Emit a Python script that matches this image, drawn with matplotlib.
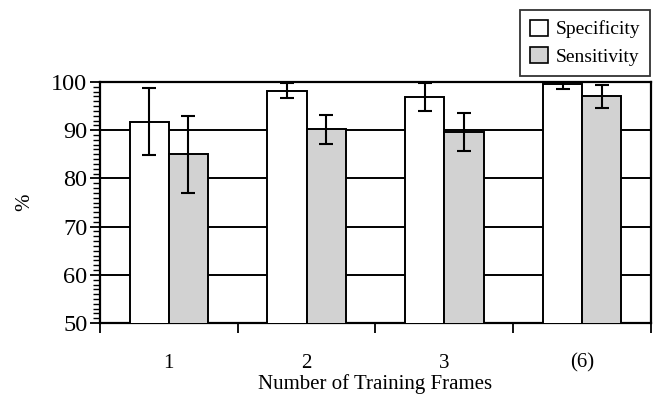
import matplotlib
matplotlib.use("Agg")
import matplotlib.pyplot as plt
import numpy as np
from matplotlib.patches import Patch
from matplotlib.ticker import MultipleLocator

categories = ["1", "2", "3", "(6)"]
specificity = [91.8, 98.2, 96.8, 99.5]
specificity_err = [7.0, 1.6, 2.9, 1.0]
sensitivity = [85.0, 90.2, 89.6, 97.0]
sensitivity_err = [8.0, 3.0, 4.0, 2.3]

plt.rcParams['font.family'] = ['Liberation Serif', 'DejaVu Serif']

fig = plt.figure(figsize=(6.53, 3.96), dpi=100)
ax = fig.add_axes([0.153, 0.184, 0.844, 0.609])

x = np.arange(len(categories))
w = 0.285
gray = '#d2d2d2'
ax.bar(x - w/2, specificity, w, color='white', edgecolor='black', linewidth=1.4, zorder=3,
       yerr=specificity_err, error_kw=dict(ecolor='black', elinewidth=1.5, capsize=5, capthick=1.5))
ax.bar(x + w/2, sensitivity, w, color=gray, edgecolor='black', linewidth=1.4, zorder=3,
       yerr=sensitivity_err, error_kw=dict(ecolor='black', elinewidth=1.5, capsize=5, capthick=1.5))

ax.set_ylim(50, 100)
ax.set_xlim(-0.5, len(categories) - 0.5)
ax.set_yticks([50, 60, 70, 80, 90, 100])
ax.yaxis.set_minor_locator(MultipleLocator(1))
ax.yaxis.grid(True, color='black', linewidth=1.4, zorder=0)
ax.set_axisbelow(True)

ax.set_xticks(np.arange(len(categories) + 1) - 0.5)
ax.set_xticklabels([])
ax.set_xticks(x, minor=True)
ax.set_xticklabels(categories, minor=True)
ax.tick_params(axis='x', which='major', direction='out', length=7, width=1.3)
ax.tick_params(axis='x', which='minor', length=0, pad=22, labelsize=15)
ax.tick_params(axis='y', which='major', direction='out', length=7, width=1.3, labelsize=17.5, pad=2)
ax.tick_params(axis='y', which='minor', direction='out', length=5, width=1.0)

for s in ax.spines.values():
    s.set_linewidth(1.6)
    s.set_color('black')

ax.set_ylabel('%', fontsize=15, labelpad=12)
ax.set_xlabel('Number of Training Frames', fontsize=15, labelpad=1)

handles = [Patch(facecolor='white', edgecolor='black', linewidth=1.2, label='Specificity'),
           Patch(facecolor=gray, edgecolor='black', linewidth=1.2, label='Sensitivity')]
leg = fig.legend(handles=handles, loc='upper right', bbox_to_anchor=(0.995, 0.975),
                 fontsize=14, frameon=True, fancybox=False, edgecolor='black',
                 handlelength=0.9, handleheight=0.9, handletextpad=0.4, borderpad=0.5,
                 labelspacing=0.45, borderaxespad=0)
leg.get_frame().set_linewidth(1.3)

fig.savefig('out.png', dpi=100)
